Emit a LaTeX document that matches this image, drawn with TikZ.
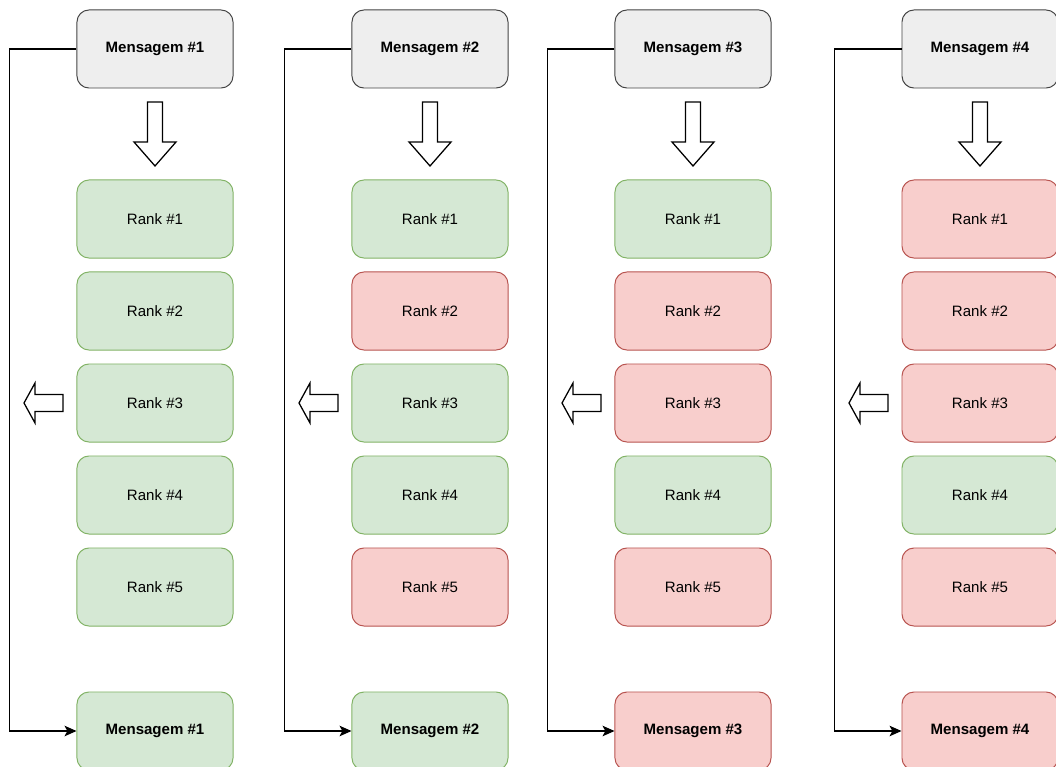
\documentclass[tikz,border=0pt]{standalone}
\usepackage{fontspec}
\setmainfont{Liberation Sans}
\usepackage{tikz, xcolor}
\usetikzlibrary{arrows.meta}

\definecolor{msggray}{HTML}{EEEEEE}
\definecolor{msgedge}{HTML}{444444}
\definecolor{okfill}{HTML}{D5E8D4}
\definecolor{okedge}{HTML}{82B366}
\definecolor{badfill}{HTML}{F8CECC}
\definecolor{badedge}{HTML}{B85450}

\tikzset{
  box/.style={rectangle, rounded corners=.3cm, minimum width=3.9cm, minimum height=1.95cm,
    inner sep=0pt, line width=.7pt, font=\fontsize{10.7}{12}\selectfont},
  bold/.style={font=\fontsize{10.7}{12}\selectfont\bfseries},
  msg/.style={box, bold, fill=msggray, draw=msgedge},
  ok/.style={box, fill=okfill, draw=okedge},
  bad/.style={box, fill=badfill, draw=badedge},
  hollow/.style={draw, fill=white, line width=.9pt, line join=miter}
}

\begin{document}
\begin{tikzpicture}[x=.025cm, y=-.025cm]
    \useasboundingbox (0, 0) rectangle (1056, 767);

    % one column per message: ranks 1..5 and the result
    \foreach \c/\x/\sa/\sb/\sc/\sd/\se/\so in {1/155/ok/ok/ok/ok/ok/ok,
        2/430/ok/bad/ok/ok/bad/ok, 3/693/ok/bad/bad/ok/bad/bad,
        4/980/bad/bad/bad/ok/bad/bad} {
      \node [msg] (m\c) at (\x, 49) {Mensagem \#\c};

      \foreach \r/\s/\y in {1/\sa/219, 2/\sb/311, 3/\sc/403, 4/\sd/495, 5/\se/587}
        \node [\s] (r\c-\r) at (\x, \y) {Rank \#\r};

      \node [\so, bold] (o\c) at (\x, 731) {Mensagem \#\c};

      %\draw [hollow] (\x, 102) to (\x, 166);
      \draw [hollow] (\x-7.5, 102) -- (\x+7.5, 102) -- (\x+7.5, 142) -- (\x+21, 142)
        -- (\x, 166) -- (\x-21, 142) -- (\x-7.5, 142) -- cycle;
      \draw [hollow] (\x-92, 394.5) -- (\x-92, 411.5) -- (\x-120, 411.5) -- (\x-120, 423)
        -- (\x-131, 403) -- (\x-120, 383) -- (\x-120, 394.5) -- cycle;

      \draw [line width=.9pt, -{Stealth[length=8.5pt, width=7.5pt, inset=2pt]}]
        (m\c.west) -- ++(-67, 0) |- (o\c.west);
    }

  \end{tikzpicture}
\end{document}
